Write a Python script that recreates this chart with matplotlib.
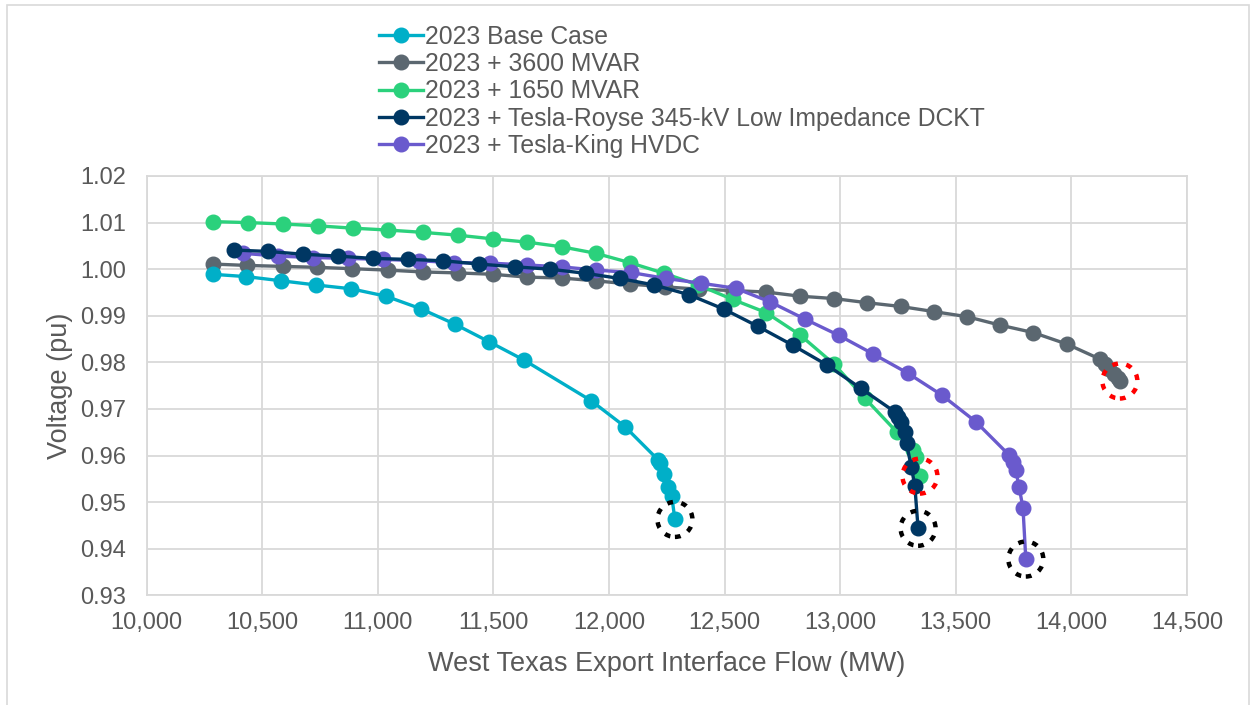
import matplotlib
matplotlib.use("Agg")
import matplotlib.pyplot as plt
from matplotlib.patches import Circle, Rectangle
from matplotlib.transforms import ScaledTranslation

plt.rcParams['font.family'] = ['Liberation Sans', 'DejaVu Sans']

# West Texas export interface flow (MW) and voltage (pu) per case
base_x = [10285, 10431, 10583, 10734, 10883, 11035, 11186, 11333, 11482, 11632,
          11922, 12069, 12212, 12220, 12239, 12256, 12271, 12285]
base_y = [0.9989, 0.9984, 0.9975, 0.9966, 0.9958, 0.9942, 0.9915, 0.9882, 0.9844, 0.9805,
          0.9718, 0.9662, 0.9591, 0.9583, 0.9560, 0.9533, 0.9514, 0.9463]

mvar3600_x = [10285, 10435, 10588, 10738, 10889, 11042, 11194, 11345, 11497, 11644,
              11795, 11943, 12090, 12242, 12390, 12537, 12679, 12826, 12972, 13117,
              13261, 13405, 13549, 13691, 13835, 13982, 14124, 14145, 14165, 14185, 14200, 14210]
mvar3600_y = [1.0011, 1.0008, 1.0006, 1.0004, 1.0001, 0.9998, 0.9994, 0.9992, 0.9989, 0.9983,
              0.9981, 0.9975, 0.9968, 0.9962, 0.9957, 0.9954, 0.9951, 0.9942, 0.9937, 0.9928,
              0.9920, 0.9909, 0.9898, 0.9880, 0.9864, 0.9839, 0.9807, 0.9797, 0.9786, 0.9775, 0.9766, 0.9760]

mvar1650_x = [10288, 10437, 10588, 10740, 10891, 11042, 11194, 11345, 11497, 11646,
              11795, 11943, 12090, 12239, 12386, 12535, 12679, 12826, 12974, 13107,
              13244, 13316, 13330, 13345]
mvar1650_y = [1.0102, 1.0100, 1.0097, 1.0093, 1.0088, 1.0084, 1.0079, 1.0073, 1.0065, 1.0058,
              1.0048, 1.0034, 1.0014, 0.9991, 0.9966, 0.9935, 0.9907, 0.9859, 0.9796, 0.9723,
              0.9651, 0.9612, 0.9598, 0.9556]

dckt_x = [10379, 10526, 10678, 10829, 10980, 11132, 11283, 11438, 11593, 11744,
          11900, 12047, 12196, 12347, 12498, 12645, 12794, 12941, 13090, 13236,
          13251, 13265, 13280, 13287, 13308, 13323, 13337]
dckt_y = [1.0041, 1.0038, 1.0032, 1.0028, 1.0023, 1.0021, 1.0018, 1.0011, 1.0005, 1.0000,
          0.9991, 0.9980, 0.9966, 0.9945, 0.9914, 0.9877, 0.9837, 0.9795, 0.9744, 0.9694,
          0.9683, 0.9673, 0.9651, 0.9626, 0.9575, 0.9535, 0.9444]

hvdc_x = [10418, 10566, 10718, 10872, 11023, 11179, 11330, 11485, 11644, 11795,
          11943, 12093, 12246, 12396, 12548, 12696, 12847, 12994, 13143, 13292,
          13439, 13586, 13731, 13748, 13760, 13774, 13791, 13803]
hvdc_y = [1.0034, 1.0028, 1.0025, 1.0023, 1.0021, 1.0018, 1.0014, 1.0013, 1.0009, 1.0005,
          0.9998, 0.9993, 0.9980, 0.9970, 0.9959, 0.9930, 0.9893, 0.9858, 0.9818, 0.9777,
          0.9730, 0.9673, 0.9601, 0.9587, 0.9568, 0.9533, 0.9487, 0.9378]

labels = ["2023 Base Case", "2023 + 3600 MVAR", "2023 + 1650 MVAR",
          "2023 + Tesla-Royse 345-kV Low Impedance DCKT", "2023 + Tesla-King HVDC"]
colors = ["#00AFC8", "#5B6770", "#2BD17C", "#003763", "#6A5ACD"]
# which end point gets a red (first limit) or black circle
ring_colors = ["black", "red", "red", "black", "black"]

x_ticks = [10000, 10500, 11000, 11500, 12000, 12500, 13000, 13500, 14000, 14500]
y_ticks = [0.93, 0.94, 0.95, 0.96, 0.97, 0.98, 0.99, 1.00, 1.01, 1.02]

series = [(base_x, base_y), (mvar3600_x, mvar3600_y), (mvar1650_x, mvar1650_y),
          (dckt_x, dckt_y), (hvdc_x, hvdc_y)]

text_col = "#595959"
grid_col = "#D9D9D9"

fig = plt.figure(figsize=(12.52, 7.05), dpi=100)
ax = fig.add_axes([0.1172, 0.1555, 0.8308, 0.5949])

# draw order: gray first so the others sit on top like the original
order = [1, 0, 2, 4, 3]
handles = {}
for i in order:
    xs, ys = series[i]
    h, = ax.plot(xs, ys, color=colors[i], lw=2.4, marker='o', ms=10.5,
                 label=labels[i], zorder=3)
    handles[i] = h

# dotted rings around the final points
for i, (xs, ys) in enumerate(series):
    tr = fig.dpi_scale_trans + ScaledTranslation(xs[-1], ys[-1], ax.transData)
    ring = Circle((0, 0), 0.175, transform=tr, fill=False, edgecolor=ring_colors[i],
                  lw=3.2, linestyle=(0, (1.3, 1.9)), zorder=5, clip_on=False)
    ax.add_patch(ring)

ax.set_xlim(10000, 14500)
ax.set_ylim(0.93, 1.02)
ax.set_xticks(x_ticks)
ax.set_yticks(y_ticks)
ax.set_xticklabels([f"{v:,}" for v in x_ticks])
ax.set_yticklabels([f"{v:.2f}" for v in y_ticks])
ax.grid(True, color=grid_col, lw=1.3, zorder=0)
ax.set_axisbelow(True)
for s in ax.spines.values():
    s.set_color(grid_col)
    s.set_linewidth(1.3)
ax.tick_params(length=0, labelsize=17, colors=text_col)
ax.tick_params(axis='x', pad=12)
ax.tick_params(axis='y', pad=15)
ax.set_xlabel("West Texas Export Interface Flow (MW)", fontsize=19.5, color=text_col, labelpad=12)
ax.set_ylabel("Voltage (pu)", fontsize=19.5, color=text_col, labelpad=5)

leg = fig.legend([handles[i] for i in range(5)], labels, loc='upper left',
                 bbox_to_anchor=(369 / 1252, 1 - 15 / 705), frameon=False,
                 fontsize=17.8, handlelength=1.8, handletextpad=0.08, labelspacing=0.13,
                 borderaxespad=0)
for t in leg.get_texts():
    t.set_color(text_col)

fig.patches.append(Rectangle((7 / 1252, -0.05), 1242 / 1252, 1.05 - 5 / 705,
                             transform=fig.transFigure, fill=False,
                             edgecolor=grid_col, lw=1.2))

fig.savefig("out.png", dpi=100)
